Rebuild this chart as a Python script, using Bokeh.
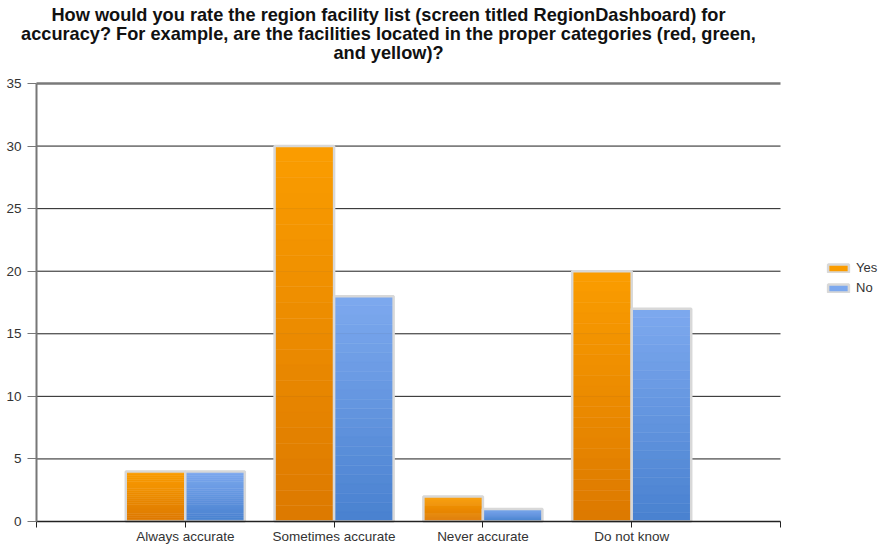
import numpy as np
from bokeh.plotting import figure
from bokeh.models import (Range1d, FixedTicker, Legend, LegendItem,
                          ColumnDataSource, Label)
from bokeh.embed import file_html
from bokeh.resources import INLINE

title_text = ("How would you rate the region facility list (screen titled RegionDashboard) for\n"
              "accuracy? For example, are the facilities located in the proper categories (red, green,\n"
              "and yellow)?")
categories = ["Always accurate", "Sometimes accurate", "Never accurate", "Do not know"]
yes_values = [4, 30, 2, 20]
no_values = [4, 18, 1, 17]
series_names = ["Yes", "No"]
y_ticks = [0, 5, 10, 15, 20, 25, 30, 35]

# colours (top, bottom) for gradient
yes_top, yes_bottom = (250, 156, 0), (221, 122, 0)
no_top, no_bottom = (124, 168, 238), (74, 130, 208)

n_cat = len(categories)
n_slots = n_cat + 1
positions = list(range(1, n_cat + 1))
bar_w = 0.4
K = 24

# layout (figure pixels): the frame covers the whole figure
W, H = 882, 544
PX_L, PX_R = 36, 780      # plot area left/right
PX_T, PX_B = 83, 521      # plot area top/bottom
ux = (PX_R - PX_L) / n_slots
uy = (PX_B - PX_T) / y_ticks[-1]
x_start, x_end = -PX_L / ux, n_slots + (W - PX_R) / ux
y_start, y_end = -(H - PX_B) / uy, y_ticks[-1] + PX_T / uy


def hexc(rgb):
    return "#%02x%02x%02x" % tuple(int(round(c)) for c in rgb)


def band_source(values, offset, top_rgb, bottom_rgb):
    d = dict(left=[], right=[], bottom=[], top=[], color=[])
    for k in reversed(range(K)):
        f = k / (K - 1)
        col = hexc([b + (t - b) * f for t, b in zip(top_rgb, bottom_rgb)])
        for pos, v in zip(positions, values):
            d["left"].append(pos + offset)
            d["right"].append(pos + offset + bar_w)
            d["bottom"].append(v * k / K)
            d["top"].append(v * (k + 1) / K)
            d["color"].append(col)
    return ColumnDataSource(d)


def outline_source(values, offset):
    return ColumnDataSource(dict(
        left=[p_ + offset for p_ in positions],
        right=[p_ + offset + bar_w for p_ in positions],
        bottom=[0] * len(values), top=list(values)))


p = figure(width=W, height=H, output_backend="svg", toolbar_location=None,
           x_range=Range1d(x_start, x_end), y_range=Range1d(y_start, y_end),
           min_border=0, min_border_left=0, min_border_right=0,
           min_border_top=0, min_border_bottom=0)
p.outline_line_color = None
p.background_fill_color = "white"
p.border_fill_color = "white"
p.xgrid.visible = False
p.ygrid.visible = False

# grid lines across the category slots
grid_src = ColumnDataSource(dict(y=y_ticks[1:-1]))
p.segment(x0=0, x1=n_slots, y0="y", y1="y", source=grid_src,
          line_color="#1e1e1e", line_width=1)
top_src = ColumnDataSource(dict(y=y_ticks[-1:]))
p.segment(x0=0, x1=n_slots, y0="y", y1="y", source=top_src,
          line_color="#7a7a7a", line_width=2.5)

# y axis
ya = p.yaxis[0]
ya.fixed_location = 0
ya.bounds = (y_ticks[0], y_ticks[-1])
ya.ticker = FixedTicker(ticks=y_ticks)
ya.axis_line_color = "#777777"
ya.axis_line_width = 2
ya.major_tick_line_color = "#777777"
ya.major_tick_out = 9
ya.major_tick_in = 0
ya.minor_tick_line_color = None
ya.major_label_text_font = "Liberation Sans"
ya.major_label_text_font_size = "13.5px"
ya.major_label_text_color = "#333333"
ya.major_label_standoff = 6

# x axis
xa = p.xaxis[0]
xa.fixed_location = 0
xa.bounds = (0, n_slots)
xa.ticker = FixedTicker(ticks=[0] + positions + [n_slots])
xa.major_label_overrides = {0: "", n_slots: "", **{pos: c for pos, c in zip(positions, categories)}}
xa.axis_line_color = "#222222"
xa.axis_line_width = 1.5
xa.major_tick_line_color = "#222222"
xa.major_tick_out = 6
xa.major_tick_in = 0
xa.minor_tick_line_color = None
xa.major_label_text_font = "Liberation Sans"
xa.major_label_text_font_size = "13.5px"
xa.major_label_text_color = "#333333"
xa.major_label_standoff = 1

renderers = []
for values, offset, (t_rgb, b_rgb) in [(yes_values, -bar_w, (yes_top, yes_bottom)),
                                       (no_values, 0.0, (no_top, no_bottom))]:
    bs = band_source(values, offset, t_rgb, b_rgb)
    rb = p.quad(left="left", right="right", bottom="bottom", top="top",
                fill_color="color", line_color="color", line_width=0.5, source=bs)
    os_ = outline_source(values, offset)
    ro = p.quad(left="left", right="right", bottom="bottom", top="top",
                fill_color=None, line_color="#d8d8d8", line_width=2.5, source=os_)
    renderers.append((rb, ro))

# title
title_cx = (388 - PX_L) / ux
title_top = y_end - 4.5 / uy
p.add_layout(Label(x=title_cx, y=title_top, text=title_text,
                   text_align="center", text_baseline="top",
                   text_font="Liberation Sans", text_font_style="bold",
                   text_font_size="18.2px", text_color="#111111",
                   text_line_height=0.96))

legend = Legend(items=[LegendItem(label=series_names[i], renderers=list(renderers[i]), index=0)
                       for i in range(2)],
                location=(825, 249), orientation="vertical")
legend.border_line_color = None
legend.background_fill_alpha = 0
legend.padding = 0
legend.margin = 0
legend.spacing = 5
legend.glyph_width = 26
legend.glyph_height = 10
legend.label_height = 11
legend.label_standoff = 5
legend.label_text_font = "Liberation Sans"
legend.label_text_font_size = "13px"
legend.label_text_color = "#333333"
legend.label_text_baseline = "middle"
p.add_layout(legend)

open("out.html", "w").write(file_html(p, INLINE))
